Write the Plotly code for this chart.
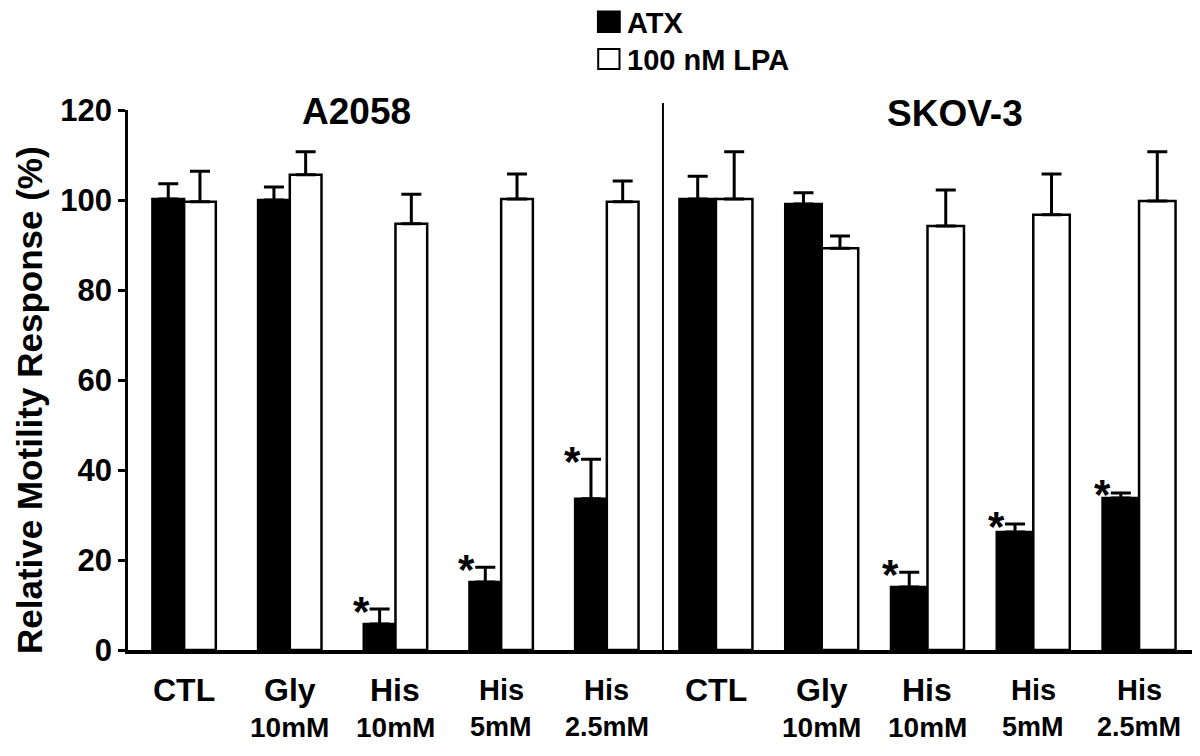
import plotly.graph_objects as go

# ---------------- data ----------------
conditions = ["CTL", "Gly 10mM", "His 10mM", "His 5mM", "His 2.5mM"]
label_line1 = ["CTL", "Gly", "His", "His", "His"]
label_line2 = ["", "10mM", "10mM", "5mM", "2.5mM"]
label_size1 = [32, 32, 32, 29, 29]
label_size2 = [28, 28, 28, 27, 27]

a2058_atx = [100.2, 100.0, 5.8, 15.1, 33.6]
a2058_atx_err = [3.4, 2.9, 3.3, 3.3, 8.8]
a2058_lpa = [99.6, 105.6, 94.7, 100.2, 99.6]
a2058_lpa_err = [6.8, 5.1, 6.6, 5.6, 4.6]

skov_atx = [100.2, 99.1, 14.0, 26.2, 33.8]
skov_atx_err = [5.1, 2.5, 3.3, 1.8, 1.1]
skov_lpa = [100.2, 89.3, 94.2, 96.7, 99.8]
skov_lpa_err = [10.5, 2.7, 8.0, 9.1, 10.9]

significant = [False, False, True, True, True]
panel_titles = ["A2058", "SKOV-3"]
series_names = ["ATX", "100 nM LPA"]
y_ticks = [0, 20, 40, 60, 80, 100, 120]

FONT = "Liberation Sans, Arial, Helvetica, sans-serif"
idx = list(range(len(conditions)))

fig = go.Figure()

panels = [
    dict(atx=a2058_atx, atx_err=a2058_atx_err, lpa=a2058_lpa, lpa_err=a2058_lpa_err,
         xaxis="x", w=0.30),
    dict(atx=skov_atx, atx_err=skov_atx_err, lpa=skov_lpa, lpa_err=skov_lpa_err,
         xaxis="x2", w=0.345),
]

for p in panels:
    w = p["w"]
    fig.add_trace(go.Bar(
        x=idx, y=p["atx"], name=series_names[0], xaxis=p["xaxis"], yaxis="y",
        width=w, offset=-w,
        marker=dict(color="black", line=dict(color="black", width=2.5)),
        error_y=dict(type="data", array=p["atx_err"], arrayminus=[0] * 5, symmetric=False,
                     color="black", thickness=3, width=10),
        showlegend=False,
    ))
    fig.add_trace(go.Bar(
        x=idx, y=p["lpa"], name=series_names[1], xaxis=p["xaxis"], yaxis="y",
        width=w, offset=0,
        marker=dict(color="white", line=dict(color="black", width=2.5)),
        error_y=dict(type="data", array=p["lpa_err"], arrayminus=[0] * 5, symmetric=False,
                     color="black", thickness=3, width=10),
        showlegend=False,
    ))

annotations = []
# x labels and asterisks
for p in panels:
    xr = p["xaxis"]
    for i in idx:
        annotations.append(dict(x=i, xref=xr, y=-0.074, yref="paper", text=label_line1[i],
                                showarrow=False, xanchor="center", yanchor="middle",
                                font=dict(family=FONT, size=label_size1[i], color="black", weight="bold")))
        if label_line2[i]:
            annotations.append(dict(x=i, xref=xr, y=-0.143, yref="paper", text=label_line2[i],
                                    showarrow=False, xanchor="center", yanchor="middle",
                                    font=dict(family=FONT, size=label_size2[i], color="black", weight="bold")))
        if significant[i]:
            annotations.append(dict(x=i - p["w"] / 2, xref=xr, y=p["atx"][i] + p["atx_err"][i], yref="y",
                                    text="*", showarrow=False, xanchor="right", yanchor="middle",
                                    xshift=-8, yshift=-2,
                                    font=dict(family=FONT, size=42, color="black", weight="bold")))

# panel titles
annotations.append(dict(x=0.215, y=0.998, xref="paper", yref="paper", text=panel_titles[0],
                        showarrow=False, xanchor="center", yanchor="middle",
                        font=dict(family=FONT, size=37, color="black", weight="bold")))
annotations.append(dict(x=0.7765, y=0.994, xref="paper", yref="paper", text=panel_titles[1],
                        showarrow=False, xanchor="center", yanchor="middle",
                        font=dict(family=FONT, size=37, color="black", weight="bold")))
# y title
annotations.append(dict(x=-0.092, y=0.463, xref="paper", yref="paper",
                        text="Relative Motility Response (%)", textangle=-90,
                        showarrow=False, xanchor="center", yanchor="middle",
                        font=dict(family=FONT, size=35, color="black", weight="bold")))
# legend text
annotations.append(dict(x=0.4676, y=1.162, xref="paper", yref="paper", text=series_names[0],
                        showarrow=False, xanchor="left", yanchor="middle", height=26,
                        borderpad=0,
                        font=dict(family=FONT, size=29, color="black", weight="bold")))
annotations.append(dict(x=0.4676, y=1.0935, xref="paper", yref="paper", text=series_names[1],
                        showarrow=False, xanchor="left", yanchor="middle", height=26,
                        borderpad=0,
                        font=dict(family=FONT, size=29, color="black", weight="bold")))

shapes = [
    # legend swatches
    dict(type="rect", xref="paper", yref="paper", x0=0.441, x1=0.462, y0=1.144, y1=1.183,
         fillcolor="black", line=dict(color="black", width=1.5)),
    dict(type="rect", xref="paper", yref="paper", x0=0.4415, x1=0.4615, y0=1.076, y1=1.113,
         fillcolor="white", line=dict(color="black", width=2)),
    # panel divider
    dict(type="line", xref="paper", yref="paper", x0=0.5023, x1=0.5023, y0=0, y1=1.013,
         line=dict(color="black", width=2)),
]

fig.update_layout(
    width=1192, height=748,
    margin=dict(l=120, r=7, t=102, b=106),
    paper_bgcolor="white", plot_bgcolor="white",
    barmode="overlay",
    showlegend=False,
    font=dict(family=FONT, color="black"),
    xaxis=dict(domain=[0, 0.5023], range=[-0.531, 4.531], showgrid=False, zeroline=False,
               showticklabels=False, ticks="", showline=True, linecolor="black", linewidth=4,
               anchor="y"),
    xaxis2=dict(domain=[0.5023, 1], range=[-0.501, 4.51], showgrid=False, zeroline=False,
                showticklabels=False, ticks="", showline=True, linecolor="black", linewidth=4,
                anchor="y"),
    yaxis=dict(range=[0, 120], tickvals=y_ticks, ticks="outside", ticklen=7, tickwidth=2.5,
               tickcolor="black", showline=True, linecolor="black", linewidth=2.5,
               showgrid=False, zeroline=False, ticklabelstandoff=0,
               tickfont=dict(family=FONT, size=31, color="black", weight="bold")),
    annotations=annotations,
    shapes=shapes,
)

fig.write_html("out.html")
